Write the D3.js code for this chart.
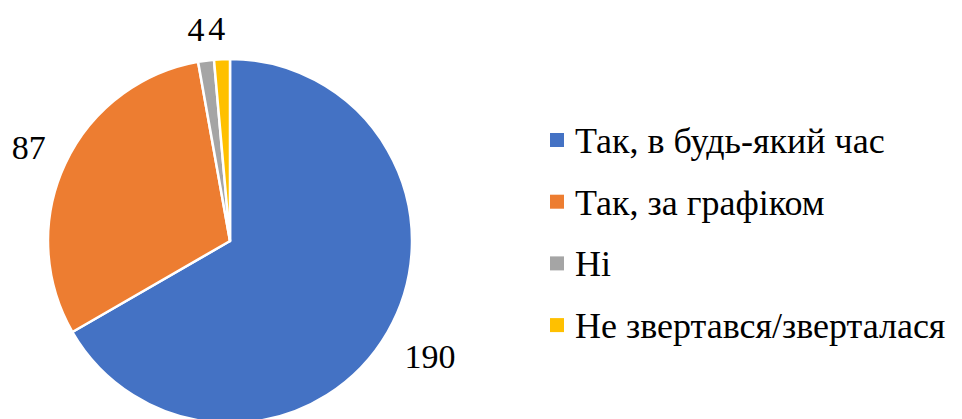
<!DOCTYPE html>
<html>
<head>
<meta charset="utf-8">
<script src="https://cdn.jsdelivr.net/npm/d3@7"></script>
<style>
  body { margin: 0; background: #fff; }
  text { font-family: "Liberation Serif", "Times New Roman", serif; }
</style>
</head>
<body>
<script>
const width = 962;
const height = 419;

const categories = ["Так, в будь-який час", "Так, за графіком", "Ні", "Не звертався/зверталася"];
const values = [190, 87, 4, 4];
const colors = ["#4472c4", "#ed7d31", "#a5a5a5", "#ffc000"];

const cx = 230, cy = 241, radius = 182;

const svg = d3.select("body")
    .append("svg")
    .attr("width", width)
    .attr("height", height);

const pie = d3.pie().sort(null).value(d => d);
const arcs = pie(values);

const arc = d3.arc().innerRadius(0).outerRadius(radius);

const g = svg.append("g")
    .attr("transform", `translate(${cx}, ${cy})`);

g.selectAll("path")
    .data(arcs)
    .enter()
    .append("path")
    .attr("d", arc)
    .attr("fill", (d, i) => colors[i])
    .attr("stroke", "#fff")
    .attr("stroke-width", 2.5)
    .attr("stroke-linejoin", "round");

// data labels outside the pie, each at its own distance
const labelR = [231, 222, 213, 213];
const labelDx = [0, 0, -6, -4];

g.selectAll("text.label")
    .data(arcs)
    .enter()
    .append("text")
    .attr("class", "label")
    .attr("x", (d, i) => d3.arc().innerRadius(labelR[i]).outerRadius(labelR[i]).centroid(d)[0] + labelDx[i])
    .attr("y", (d, i) => d3.arc().innerRadius(labelR[i]).outerRadius(labelR[i]).centroid(d)[1])
    .attr("text-anchor", "middle")
    .attr("dominant-baseline", "central")
    .attr("font-size", 34)
    .attr("fill", "#000")
    .text(d => d.data);

// legend
const legend = svg.append("g")
    .attr("transform", "translate(550, 140)");

const rows = legend.selectAll("g")
    .data(categories)
    .enter()
    .append("g")
    .attr("transform", (d, i) => `translate(0, ${i * 61.7})`);

rows.append("rect")
    .attr("x", 0)
    .attr("y", -7)
    .attr("width", 14)
    .attr("height", 14)
    .attr("fill", (d, i) => colors[i]);

rows.append("text")
    .attr("x", 25)
    .attr("y", 13)
    .attr("font-size", 36)
    .attr("fill", "#000")
    .text(d => d);
</script>
</body>
</html>
